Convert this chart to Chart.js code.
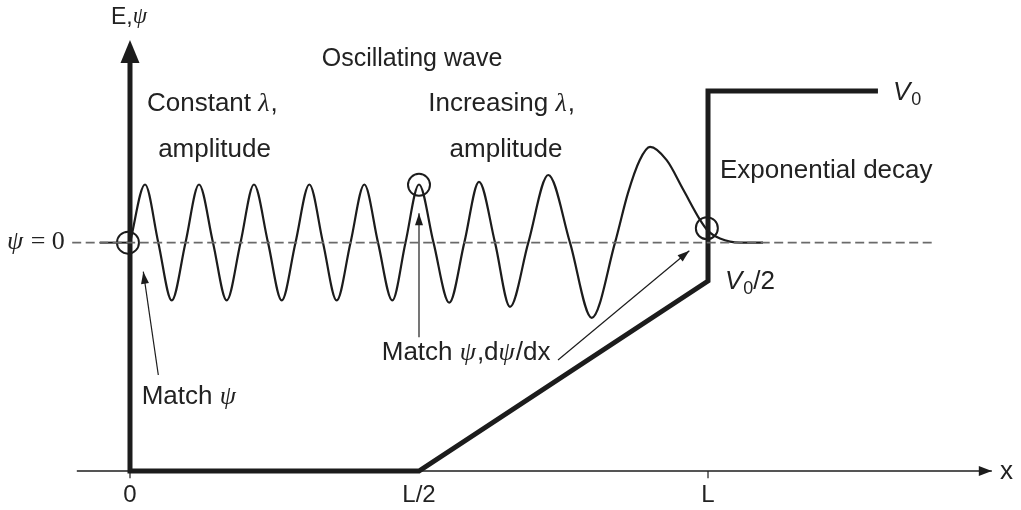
<!DOCTYPE html>
<html><head><meta charset="utf-8">
<script src="https://cdn.jsdelivr.net/npm/chart.js@4/dist/chart.umd.min.js"></script>
<style>html,body{margin:0;padding:0;background:#fff;overflow:hidden}canvas{display:block}</style>
</head><body>
<canvas id="c" width="1021" height="510"></canvas>
<script>
// Units: x in percent of L, y in percent of V0
const waveX = [0, 2.6, 4.9, 7.22, 9.6, 11.94, 14.36, 16.73, 19.12, 21.45, 23.88, 26.25, 28.63, 31.03, 33.39, 35.76, 38.15, 40.54, 42.91, 45.38, 47.66, 50.0,
  52.51, 55.24, 57.84, 60.38, 63.15, 65.74, 68.91, 72.37, 76.12, 79.88, 83.91, 86.16, 88.18, 89.97, 92.85, 95.73, 98.62, 100, 102.08, 105.54, 109.52];
const waveY = [60.1, 75.4, 60.1, 44.9, 60.1, 75.4, 60.1, 44.9, 60.1, 75.4, 60.1, 44.9, 60.1, 75.4, 60.1, 44.9, 60.1, 75.4, 60.1, 44.9, 60.1, 75.4,
  60.1, 44.3, 60.1, 76.1, 60.1, 43.2, 60.1, 77.9, 60.1, 40.3, 60.1, 73.2, 81.8, 85.3, 81.8, 74.0, 66.1, 63.2, 61.2, 60.1, 60.1];
const potentialX = [0, 0, 50, 100, 100, 129.4];
const potentialY = [107.4, 0, 0, 50, 100, 100];
const psiZero = 60.1;
const psiLineX = [-10, 139.3];
const psiStubX = [-5.2, 0];
const axisX = [-9.2, 149.1];
const tickX = [0, 100];
const tickLabelX = [0, 50, 100];
const tickLabels = ['0', 'L/2', 'L'];
const matchX = [-0.35, 50, 99.8];
const matchY = [60.1, 75.3, 63.9];
const arrow1 = [[4.9, 25.26], [2.3, 52.45]];
const arrow2 = [[50, 35.18], [50, 67.82]];
const arrow3 = [[74.05, 29.2], [96.77, 57.97]];

const pts = (xs, ys) => xs.map((v, i) => ({x: v, y: ys[i]}));
const INK = '#1c1c1c';

const F = {
  sans: s => `${s}px "Liberation Sans", Arial, sans-serif`,
  sansI: s => `italic ${s}px "Liberation Sans", Arial, sans-serif`,
  serifI: s => `italic ${s}px "Liberation Serif", "Times New Roman", serif`,
  serif: s => `${s}px "Liberation Serif", "Times New Roman", serif`,
};

const labels = [
  {x: -3.29, y: 119.4, size: 23, align: 'left', parts: [['E,', 'sans'], ['ψ', 'serifI']]},
  {x: 48.79, y: 108.5, size: 25, align: 'center', parts: [['Oscillating wave', 'sans']]},
  {x: 2.94, y: 96.6, size: 26, align: 'left', parts: [['Constant ', 'sans'], ['λ', 'serifI'], [',', 'sans']]},
  {x: 14.62, y: 84.5, size: 26, align: 'center', parts: [['amplitude', 'sans']]},
  {x: 51.6, y: 96.6, size: 26, align: 'left', parts: [['Increasing ', 'sans'], ['λ', 'serifI'], [',', 'sans']]},
  {x: 65.05, y: 84.5, size: 26, align: 'center', parts: [['amplitude', 'sans']]},
  {x: 102.08, y: 78.95, size: 26, align: 'left', parts: [['Exponential decay', 'sans']]},
  {x: 132.0, y: 99.5, size: 26, align: 'left', parts: [['V', 'sansI'], ['0', 'sub']]},
  {x: 102.94, y: 49.7, size: 26, align: 'left', parts: [['V', 'sansI'], ['0', 'sub'], ['/2', 'sans']]},
  {x: -21.28, y: 60.26, size: 26, align: 'left', parts: [['ψ', 'serifI'], [' = 0', 'serif']]},
  {x: 2.02, y: 19.5, size: 26, align: 'left', parts: [['Match ', 'sans'], ['ψ', 'serifI']]},
  {x: 43.55, y: 31.05, size: 26, align: 'left', parts: [['Match ', 'sans'], ['ψ', 'serifI'], [',d', 'sans'], ['ψ', 'serifI'], ['/dx', 'sans']]},
  {x: 150.5, y: -0.26, size: 26, align: 'left', parts: [['x', 'sans']]},
];

function partFont(p, size) {
  if (p[1] === 'sub') return F.sans(Math.round(size * 0.68));
  return F[p[1]](size);
}

function drawRich(ctx, px, py, lab) {
  const size = lab.size;
  let total = 0;
  const widths = lab.parts.map(p => { ctx.font = partFont(p, size); const w = ctx.measureText(p[0]).width; total += w; return w; });
  let cx = lab.align === 'center' ? px - total / 2 : px;
  ctx.textBaseline = 'middle';
  ctx.textAlign = 'left';
  lab.parts.forEach((p, i) => {
    ctx.font = partFont(p, size);
    const dy = p[1] === 'sub' ? size * 0.28 : 0;
    ctx.fillText(p[0], cx, py + dy);
    cx += widths[i] + (p[1] === 'sansI' ? 1 : 0) + (p[1] === 'serifI' ? 1 : 0);
  });
}

function head(ctx, tx, ty, dx, dy, len, half) {
  const n = Math.hypot(dx, dy); dx /= n; dy /= n;
  const bx = tx - dx * len, by = ty - dy * len;
  ctx.beginPath();
  ctx.moveTo(tx, ty);
  ctx.lineTo(bx - dy * half, by + dx * half);
  ctx.lineTo(bx + dy * half, by - dx * half);
  ctx.closePath();
  ctx.fill();
}

const annot = {
  id: 'annot',
  afterDatasetsDraw(chart) {
    const {ctx} = chart;
    const sx = chart.scales.x, sy = chart.scales.y;
    ctx.save();
    ctx.fillStyle = INK;
    chart.data.datasets.forEach((ds, i) => {
      if (!ds.arrow) return;
      const d = chart.getDatasetMeta(i).data;
      if (ds.arrow.forward) {
        const a = d[0], b = d[1];
        const dx = a.x - b.x, dy = a.y - b.y, n = Math.hypot(dx, dy);
        head(ctx, a.x + dx / n * ds.arrow.len, a.y + dy / n * ds.arrow.len, dx, dy, ds.arrow.len, ds.arrow.half);
      } else {
        const a = d[d.length - 1], b = d[d.length - 2];
        head(ctx, a.x, a.y, a.x - b.x, a.y - b.y, ds.arrow.len, ds.arrow.half);
      }
    });
    ctx.fillStyle = '#222';
    labels.forEach(l => drawRich(ctx, sx.getPixelForValue(l.x), sy.getPixelForValue(l.y), l));
    ctx.font = F.sans(24);
    ctx.textAlign = 'center';
    ctx.textBaseline = 'middle';
    tickLabelX.forEach((v, i) => ctx.fillText(tickLabels[i], sx.getPixelForValue(v), sy.getPixelForValue(-6.4)));
    ctx.restore();
  }
};

const line = (data, extra) => Object.assign({type: 'line', data, showLine: true, pointRadius: 0, borderColor: INK, fill: false, tension: 0}, extra);

const tickData = [];
tickX.forEach(v => { tickData.push({x: v, y: 0}, {x: v, y: -1.9}, {x: v, y: null}); });

new Chart(document.getElementById('c'), {
  type: 'scatter',
  data: {
    datasets: [
      line(pts(psiLineX, [psiZero, psiZero]), {borderColor: '#6a6a6a', borderWidth: 1.6, borderDash: [9, 4.5]}),
      line(pts(psiStubX, [psiZero, psiZero]), {borderWidth: 2}),
      line(pts(axisX, [0, 0]), {borderWidth: 1.6, arrow: {len: 13, half: 5}}),
      line(tickData, {borderWidth: 1.2, spanGaps: false}),
      line(pts(waveX, waveY), {borderWidth: 2.2, cubicInterpolationMode: 'monotone'}),
      line(pts(potentialX, potentialY), {borderWidth: 5, borderJoinStyle: 'miter', arrow: {len: 23, half: 9.5, forward: true}}),
      {type: 'scatter', data: pts(matchX, matchY), pointStyle: 'circle', pointRadius: 11, borderColor: INK, borderWidth: 2, backgroundColor: 'rgba(0,0,0,0)'},
      line(pts(arrow1.map(p => p[0]), arrow1.map(p => p[1])), {borderWidth: 1.2, arrow: {len: 12, half: 4}}),
      line(pts(arrow2.map(p => p[0]), arrow2.map(p => p[1])), {borderWidth: 1.2, arrow: {len: 12, half: 4}}),
      line(pts(arrow3.map(p => p[0]), arrow3.map(p => p[1])), {borderWidth: 1.2, arrow: {len: 12, half: 4}}),
    ]
  },
  options: {
    responsive: false,
    animation: false,
    layout: {padding: 0, autoPadding: false},
    plugins: {legend: {display: false}, tooltip: {enabled: false}},
    scales: {
      x: {type: 'linear', min: -22.49, max: 154.15, display: false},
      y: {type: 'linear', min: -10.26, max: 123.95, display: false}
    }
  },
  plugins: [annot]
});
</script>
</body></html>
